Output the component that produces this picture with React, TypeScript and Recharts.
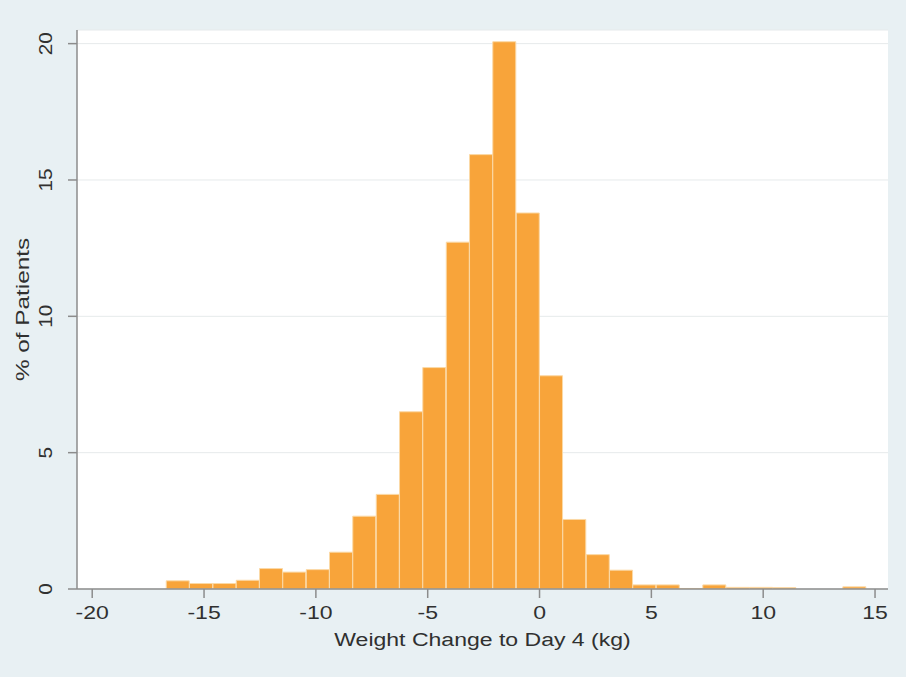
import React from 'react';
import { ComposedChart, Bar, XAxis, YAxis, CartesianGrid, Label } from 'recharts';

// histogram bins (kg), midpoints of ~1.04 kg wide bins
const binMids = [
  -16.17, -15.13, -14.08, -13.04, -12.0, -10.96, -9.91, -8.87, -7.83, -6.78,
  -5.74, -4.7, -3.65, -2.61, -1.57, -0.52, 0.52, 1.56, 2.61, 3.65,
  4.69, 5.74, 6.78, 7.82, 8.87, 9.91, 10.95, 12.0, 13.04, 14.08,
];
const pctPatients = [
  0.3, 0.2, 0.2, 0.32, 0.75, 0.62, 0.71, 1.35, 2.67, 3.47,
  6.5, 8.12, 12.72, 15.93, 20.07, 13.79, 7.82, 2.55, 1.26, 0.69,
  0.15, 0.15, 0.02, 0.15, 0.06, 0.06, 0.05, 0, 0, 0.08,
];
const xTicks = [-20, -15, -10, -5, 0, 5, 10, 15];
const yTicks = [0, 5, 10, 15, 20];

const data = binMids.map((mid, i) => ({ mid, pct: pctPatients[i] }));

const TEXT = '#303030';
const AXIS = '#8c8c8c';
const FONT = '"Liberation Sans", Arial, Helvetica, sans-serif';

// the source picture is stretched sideways, so the texts are widened to match
const XTick = ({ x, y, payload }: any) => (
  <g transform={`translate(${x},${y})`}>
    <text x={0} y={0} dy={19} textAnchor="middle" fill={TEXT} fontSize={18} fontFamily={FONT} transform="scale(1.28,1)">
      {payload.value}
    </text>
  </g>
);

const YTick = ({ y, payload }: any) => (
  <g transform={`translate(46,${y}) rotate(-90) scale(1.15,1)`}>
    <text x={0} y={0} textAnchor="middle" dominantBaseline="central" fill={TEXT} fontSize={18} fontFamily={FONT}>
      {payload.value}
    </text>
  </g>
);

export default function App() {
  return (
    <div style={{ position: 'absolute', left: 0, top: 0, width: 906, height: 677, background: '#E8F0F3' }}>
      <ComposedChart
        width={906}
        height={677}
        data={data}
        margin={{ top: 30, right: 18, bottom: 0, left: 0 }}
        barCategoryGap={0}
        barGap={0}
      >
        <CartesianGrid vertical={false} stroke="#e6eaeb" fill="#ffffff" />
        <XAxis
          type="number"
          dataKey="mid"
          domain={[-20.68, 15.58]}
          ticks={xTicks}
          allowDataOverflow
          height={88}
          tickSize={9}
          tickMargin={2}
          stroke={AXIS}
          strokeWidth={1.5}
          tick={<XTick />}
        >
          <Label
            content={({ viewBox }: any) => (
              <g transform={`translate(${viewBox.x + viewBox.width / 2},${viewBox.y + 57})`}>
                <text x={0} y={0} textAnchor="middle" fill={TEXT} fontSize={18} fontFamily={FONT} transform="scale(1.28,1)">
                  Weight Change to Day 4 (kg)
                </text>
              </g>
            )}
          />
        </XAxis>
        <YAxis
          type="number"
          domain={[0, 20.5]}
          ticks={yTicks}
          allowDataOverflow
          width={77}
          tickSize={9}
          stroke={AXIS}
          strokeWidth={1.5}
          tick={<YTick />}
        >
          <Label
            content={({ viewBox }: any) => {
              const cy = viewBox.y + viewBox.height / 2;
              return (
                <g transform={`translate(22,${cy}) rotate(-90) scale(1.35,1.05)`}>
                  <text x={0} y={0} textAnchor="middle" dominantBaseline="central" fill={TEXT} fontSize={18} fontFamily={FONT}>
                    % of Patients
                  </text>
                </g>
              );
            }}
          />
        </YAxis>
        <Bar dataKey="pct" fill="#F8A43A" stroke="#FBD9A6" strokeWidth={1} isAnimationActive={false} />
      </ComposedChart>
    </div>
  );
}
